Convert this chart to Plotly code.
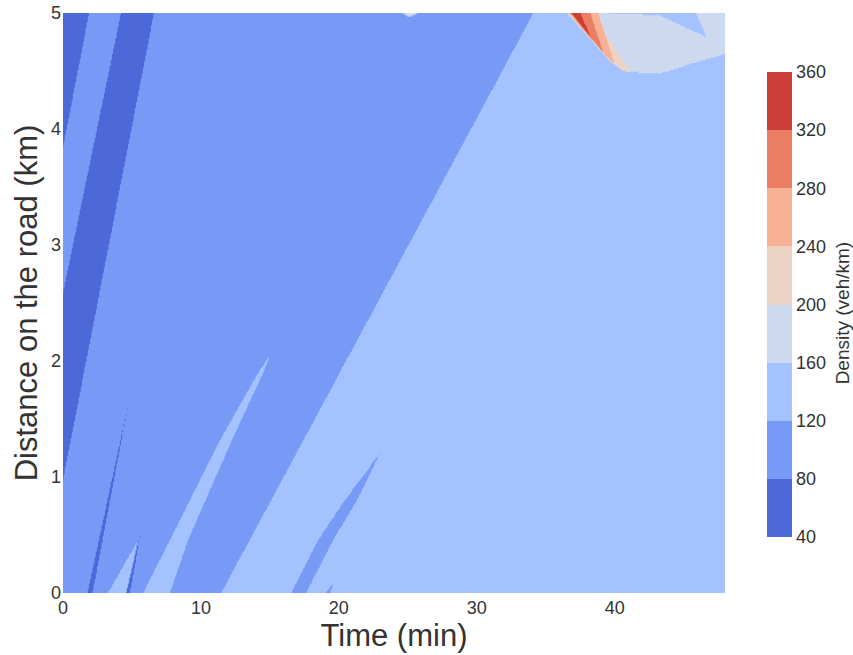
import numpy as np
import plotly.graph_objects as go

# ---------------- data ----------------
time_range = [0, 48]          # minutes
dist_range = [0, 5]           # km
x_ticks = [0, 10, 20, 30, 40]
y_ticks = [0, 1, 2, 3, 4, 5]
level_edges = [40, 80, 120, 160, 200, 240, 280, 320, 360]
band_colors = ['#4d68d7', '#779af7', '#a3c2ff', '#ccd9ee',
               '#ecd3c5', '#f7b194', '#ec7f63', '#cb3e38']

background_density = 140      # free-flow zone (120-160 band)

# regions of the time-space diagram: time (min) and distance (km) vertices
mid_zone_t = [0, 11.47, 34.11, 0]
mid_zone_d = [0, 0, 5, 5]
mid_zone_density = 100

dark_strip_t = [0, 1.89, 0]
dark_strip_d = [5, 5, 3.84]
dark_band_t = [4.21, 6.60, 0, 0]
dark_band_d = [5, 5, 0.974, 2.586]
dark_line_a_t = [1.78, 2.14, 4.79]
dark_line_a_d = [0, 0, 1.664]
light_wedge_t = [3.27, 4.64, 5.37]
light_wedge_d = [0, 0, 0.44]
dark_line_b_t = [4.57, 4.86, 5.59]
dark_line_b_d = [0, 0, 0.491]
dark_density = 60

light_band_t = [5.81, 7.76, 9.07, 12.26, 14.51, 15.02, 14.15, 11.39, 7.76]
light_band_d = [0, 0, 0.457, 1.319, 1.897, 2.052, 1.897, 1.319, 0.457]
light_density = 140

mid_wedge_t = [16.55, 17.63, 19.59, 21.34, 23.00, 20.46, 18.51]
mid_wedge_d = [0, 0, 0.457, 0.802, 1.207, 0.802, 0.457]
mid_tiny_t = [19.01, 19.38, 19.67]
mid_tiny_d = [0, 0, 0.10]

jam_t = [36.65, 48.2, 48.2, 45.50, 43.69, 42.24, 41.15, 39.84]
jam_d = [5, 5, 4.655, 4.56, 4.49, 4.475, 4.50, 4.60]
jam_density = 180
jam_gap_t = [42.9, 45.9, 46.66]
jam_gap_d = [5, 5, 4.79]
jam_sliver_t = [39.3, 43.3, 43.3]
jam_sliver_d = [5, 5, 4.982]
peach_t = [36.55, 38.24, 41.22, 40.57, 39.65]
peach_d = [5, 5, 4.49, 4.505, 4.59]
peach_density = 220
orange_t = [36.65, 38.82, 40.0, 39.6]
orange_d = [5, 5, 4.56, 4.60]
orange_density = 260
redorange_t = [36.79, 38.24, 39.19]
redorange_d = [5, 5, 4.65]
redorange_density = 300
red_t = [36.86, 37.51, 38.24]
red_d = [5, 5, 4.80]
red_density = 340

bump_t = [24.55, 25.75, 25.15]
bump_d = [5, 5, 4.965]
bump_core_t = [24.85, 25.25, 25.05]
bump_core_d = [5, 5, 4.985]

regions = [
    (mid_zone_t, mid_zone_d, mid_zone_density),
    (dark_strip_t, dark_strip_d, dark_density),
    (dark_band_t, dark_band_d, dark_density),
    (dark_line_a_t, dark_line_a_d, dark_density),
    (light_wedge_t, light_wedge_d, light_density),
    (dark_line_b_t, dark_line_b_d, dark_density),
    (light_band_t, light_band_d, light_density),
    (mid_wedge_t, mid_wedge_d, mid_zone_density),
    (mid_tiny_t, mid_tiny_d, mid_zone_density),
    (jam_t, jam_d, jam_density),
    (jam_gap_t, jam_gap_d, light_density),
    (jam_sliver_t, jam_sliver_d, light_density),
    (peach_t, peach_d, peach_density),
    (orange_t, orange_d, orange_density),
    (redorange_t, redorange_d, redorange_density),
    (red_t, red_d, red_density),
    (bump_t, bump_d, jam_density),
    (bump_core_t, bump_core_d, peach_density),
]

# ---------------- build the density grid ----------------
t = np.linspace(time_range[0], time_range[1], 577)
d = np.linspace(dist_range[0], dist_range[1], 401)
T, D = np.meshgrid(t, d)
Tc = np.clip(T, 0.001, 47.999)
Dc = np.clip(D, 0.001, 4.999)


def inside(px, py, vx, vy):
    vx = np.asarray(vx, float)
    vy = np.asarray(vy, float)
    res = np.zeros(px.shape, bool)
    n = len(vx)
    j = n - 1
    for i in range(n):
        xi, yi, xj, yj = vx[i], vy[i], vx[j], vy[j]
        cond = (yi > py) != (yj > py)
        with np.errstate(divide='ignore', invalid='ignore'):
            xint = (xj - xi) * (py - yi) / (yj - yi) + xi
        res ^= cond & (px < xint)
        j = i
    return res


z = np.full(T.shape, float(background_density))
for vt, vd, val in regions:
    z[inside(Tc, Dc, vt, vd)] = val

# stepped colour scale
n = len(band_colors)
colorscale = []
for k, c in enumerate(band_colors):
    colorscale.append([k / n, c])
    colorscale.append([(k + 1) / n, c])

font_family = 'Liberation Sans, Arial, sans-serif'
txt = '#333333'

fig = go.Figure(go.Contour(
    x=t, y=d, z=z,
    zmin=level_edges[0], zmax=level_edges[-1],
    autocontour=False,
    contours=dict(start=level_edges[0], end=level_edges[-1],
                  size=level_edges[1] - level_edges[0],
                  coloring='fill', showlines=False),
    line=dict(width=0, smoothing=0),
    colorscale=colorscale,
    hoverinfo='skip',
    colorbar=dict(
        tickvals=level_edges, ticks='', outlinewidth=0,
        thickness=25, len=0.8017, lenmode='fraction',
        x=1.0634, xanchor='left', xpad=0,
        y=0.4974, yanchor='middle', ypad=0,
        tickfont=dict(size=18, color=txt, family=font_family),
    ),
))

fig.add_annotation(
    text='Density (veh/km)', textangle=-90, showarrow=False,
    xref='paper', yref='paper', x=1.178, y=0.4836,
    xanchor='center', yanchor='middle',
    font=dict(size=19, color=txt, family=font_family),
)

fig.update_layout(
    width=853, height=655,
    margin=dict(l=63, r=128, t=13, b=62, autoexpand=False),
    paper_bgcolor='white', plot_bgcolor='white',
    font=dict(family=font_family, color=txt),
    xaxis=dict(range=time_range, tickvals=x_ticks, showgrid=False,
               zeroline=False, showline=False, ticks='',
               tickfont=dict(size=18, color=txt), ticklabelstandoff=2,
               title=dict(text='Time (min)', font=dict(size=31, color=txt),
                          standoff=2)),
    yaxis=dict(range=dist_range, tickvals=y_ticks, showgrid=False,
               zeroline=False, showline=False, ticks='',
               tickfont=dict(size=18, color=txt), ticklabelstandoff=1,
               title=dict(text='Distance on the road (km)',
                          font=dict(size=31, color=txt), standoff=4)),
)

fig.write_html('out.html')
